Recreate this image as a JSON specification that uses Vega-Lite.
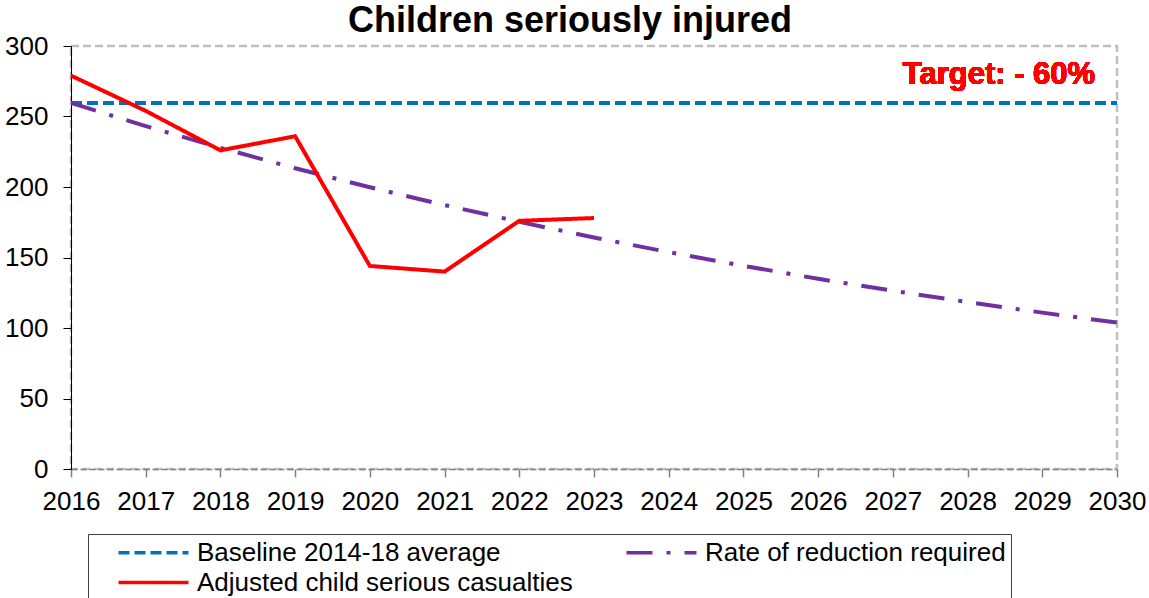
{
  "$schema": "https://vega.github.io/schema/vega-lite/v6.json",
  "autosize": {"type": "none"},
  "width": 1046,
  "height": 423,
  "padding": {"left": 71, "top": 46, "right": 32, "bottom": 129},
  "background": "white",
  "title": {
    "text": "Children seriously injured",
    "font": "Liberation Sans",
    "fontSize": 36,
    "fontWeight": "bold",
    "color": "black",
    "anchor": "middle",
    "dx": -24,
    "dy": 15,
    "offset": 8
  },
  "data": {
    "values": [
      {"year": 2016, "value": 259.6, "series": "Baseline 2014-18 average"},
      {"year": 2030, "value": 259.6, "series": "Baseline 2014-18 average"},
      {"year": 2016, "value": 259.6, "series": "Rate of reduction required"},
      {"year": 2017, "value": 243.2, "series": "Rate of reduction required"},
      {"year": 2018, "value": 227.8, "series": "Rate of reduction required"},
      {"year": 2019, "value": 213.3, "series": "Rate of reduction required"},
      {"year": 2020, "value": 199.8, "series": "Rate of reduction required"},
      {"year": 2021, "value": 187.2, "series": "Rate of reduction required"},
      {"year": 2022, "value": 175.3, "series": "Rate of reduction required"},
      {"year": 2023, "value": 164.2, "series": "Rate of reduction required"},
      {"year": 2024, "value": 153.8, "series": "Rate of reduction required"},
      {"year": 2025, "value": 144.1, "series": "Rate of reduction required"},
      {"year": 2026, "value": 134.9, "series": "Rate of reduction required"},
      {"year": 2027, "value": 126.4, "series": "Rate of reduction required"},
      {"year": 2028, "value": 118.4, "series": "Rate of reduction required"},
      {"year": 2029, "value": 110.9, "series": "Rate of reduction required"},
      {"year": 2030, "value": 103.8, "series": "Rate of reduction required"},
      {"year": 2016, "value": 279, "series": "Adjusted child serious casualties"},
      {"year": 2017, "value": 254, "series": "Adjusted child serious casualties"},
      {"year": 2018, "value": 226, "series": "Adjusted child serious casualties"},
      {"year": 2019, "value": 236, "series": "Adjusted child serious casualties"},
      {"year": 2020, "value": 144, "series": "Adjusted child serious casualties"},
      {"year": 2021, "value": 140, "series": "Adjusted child serious casualties"},
      {"year": 2022, "value": 176, "series": "Adjusted child serious casualties"},
      {"year": 2023, "value": 178, "series": "Adjusted child serious casualties"}
    ]
  },
  "layer": [
    {
      "encoding": {
        "x": {
          "field": "year",
          "type": "quantitative",
          "scale": {"domain": [2016, 2030], "nice": false, "zero": false},
          "axis": {
            "values": [2016, 2017, 2018, 2019, 2020, 2021, 2022, 2023, 2024, 2025, 2026, 2027, 2028, 2029, 2030],
            "format": "d",
            "title": null,
            "grid": false,
            "domainColor": "#808080",
            "domainDash": [6, 3],
            "domainWidth": 1.5,
            "tickColor": "#808080",
            "tickSize": 8,
            "tickWidth": 1.5,
            "labelFont": "Liberation Sans",
            "labelFontSize": 26,
            "labelColor": "black",
            "labelPadding": 11,
            "labelFlush": false,
            "labelOverlap": false
          }
        },
        "y": {
          "field": "value",
          "type": "quantitative",
          "scale": {"domain": [0, 300], "nice": false},
          "axis": {
            "values": [0, 50, 100, 150, 200, 250, 300],
            "title": null,
            "grid": false,
            "domainColor": "black",
            "domainWidth": 1,
            "tickColor": "black",
            "tickSize": 8,
            "tickWidth": 1,
            "labelFont": "Liberation Sans",
            "labelFontSize": 26,
            "labelColor": "black",
            "labelPadding": 15
          }
        },
        "color": {
          "field": "series",
          "type": "nominal",
          "scale": {
            "domain": ["Baseline 2014-18 average", "Rate of reduction required", "Adjusted child serious casualties"],
            "range": ["#0070C0", "#7030A0", "#FF0000"]
          },
          "legend": {
            "title": null,
            "orient": "none",
            "direction": "horizontal",
            "legendX": 17,
            "legendY": 488,
            "columns": 2,
            "gridAlign": "all",
            "columnPadding": 28,
            "rowPadding": 3,
            "padding": 5,
            "symbolType": "M-3,0H3",
            "symbolSize": 544,
            "symbolStrokeWidth": 3.5,
            "symbolOffset": 47,
            "labelOffset": 30,
            "labelFont": "Liberation Sans",
            "labelFontSize": 26,
            "labelColor": "black",
            "labelLimit": 700,
            "fillColor": "white",
            "strokeColor": "#404040"
          }
        },
        "strokeDash": {
          "field": "series",
          "type": "nominal",
          "scale": {
            "domain": ["Baseline 2014-18 average", "Rate of reduction required", "Adjusted child serious casualties"],
            "range": [[11, 5], [26, 14, 4, 14], [1, 0]]
          },
          "legend": {
            "title": null,
            "orient": "none",
            "direction": "horizontal",
            "legendX": 17,
            "legendY": 488,
            "columns": 2,
            "gridAlign": "all",
            "columnPadding": 28,
            "rowPadding": 3,
            "padding": 5,
            "symbolType": "M-3,0H3",
            "symbolSize": 544,
            "symbolStrokeWidth": 3.5,
            "symbolOffset": 47,
            "labelOffset": 30,
            "labelFont": "Liberation Sans",
            "labelFontSize": 26,
            "labelColor": "black",
            "labelLimit": 700,
            "fillColor": "white",
            "strokeColor": "#404040"
          }
        }
      },
      "layer": [
        {
          "transform": [{"filter": "datum.series === 'Baseline 2014-18 average'"}],
          "mark": {"type": "line", "strokeWidth": 4}
        },
        {
          "transform": [{"filter": "datum.series === 'Rate of reduction required'"}],
          "mark": {"type": "line", "strokeWidth": 4}
        },
        {
          "transform": [{"filter": "datum.series === 'Adjusted child serious casualties'"}],
          "mark": {"type": "line", "strokeWidth": 4}
        }
      ]
    },
    {
      "mark": {
        "type": "text",
        "text": "Target: - 60%",
        "font": "Liberation Sans",
        "fontSize": 31,
        "fontWeight": "bold",
        "fill": "#FF0000",
        "align": "center",
        "baseline": "alphabetic"
      },
      "encoding": {
        "x": {"datum": 2028.42, "type": "quantitative"},
        "y": {"datum": 273, "type": "quantitative"}
      }
    }
  ],
  "config": {
    "view": {"stroke": "#BFBFBF", "strokeDash": [8, 4], "strokeWidth": 2.5}
  }
}
